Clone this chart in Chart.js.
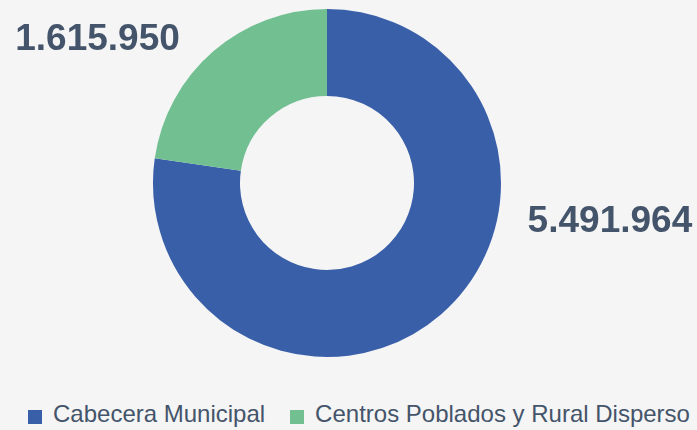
<!DOCTYPE html>
<html>
<head>
<meta charset="utf-8">
<script src="https://cdn.jsdelivr.net/npm/chart.js@4"></script>
<style>
  body { margin: 0; background: #f5f5f5; font-family: "Liberation Sans", Arial, sans-serif; }
  #wrap { position: relative; width: 697px; height: 430px; }
  #legend { position: absolute; left: 28px; top: 400px; display: flex; white-space: nowrap;
            font-size: 24px; line-height: 28px; color: #44546a; }
  #legend .item { display: flex; align-items: center; margin-right: 25px; }
  #legend .box { width: 14px; height: 14px; margin-right: 11px; position: relative; top: 3px; }
</style>
</head>
<body>
<div id="wrap">
  <canvas id="chart" width="697" height="400"></canvas>
  <div id="legend"></div>
</div>
<script>
const categories = ['Cabecera Municipal', 'Centros Poblados y Rural Disperso'];
const population = [5491964, 1615950];
const colors = ['#3a5fa9', '#72bf92'];

// miles con punto, como en el original
function fmt(n) {
    return String(n).replace(/\B(?=(\d{3})+(?!\d))/g, '.');
}

// posicion de cada etiqueta relativa al centro, en radios
const labelPos = [
    { dx: 1.626, dy: 0.221 },
    { dx: -1.319, dy: -0.822 }
];

const valueLabels = {
    id: 'valueLabels',
    afterDatasetsDraw(chart) {
        const ctx = chart.ctx;
        const meta = chart.getDatasetMeta(0);
        ctx.save();
        ctx.font = 'bold 37px "Liberation Sans", Arial, sans-serif';
        ctx.fillStyle = '#44546a';
        ctx.textAlign = 'center';
        ctx.textBaseline = 'middle';
        meta.data.forEach((arc, i) => {
            const r = arc.outerRadius;
            ctx.fillText(fmt(population[i]), arc.x + labelPos[i].dx * r, arc.y + labelPos[i].dy * r);
        });
        ctx.restore();
    }
};

new Chart(document.getElementById('chart'), {
    type: 'doughnut',
    data: {
        labels: categories,
        datasets: [{
            data: population,
            backgroundColor: colors,
            borderWidth: 0
        }]
    },
    options: {
        responsive: false,
        animation: false,
        cutout: '50%',
        layout: { padding: { top: 9, bottom: 43, left: 0, right: 43 } },
        plugins: {
            legend: { display: false },
            tooltip: { enabled: false }
        }
    },
    plugins: [valueLabels]
});

let legendHtml = '';
categories.forEach((c, i) => {
    legendHtml += `<div class="item"><span class="box" style="background:${colors[i]}"></span><span>${c}</span></div>`;
});
document.getElementById('legend').innerHTML = legendHtml;
</script>
</body>
</html>
